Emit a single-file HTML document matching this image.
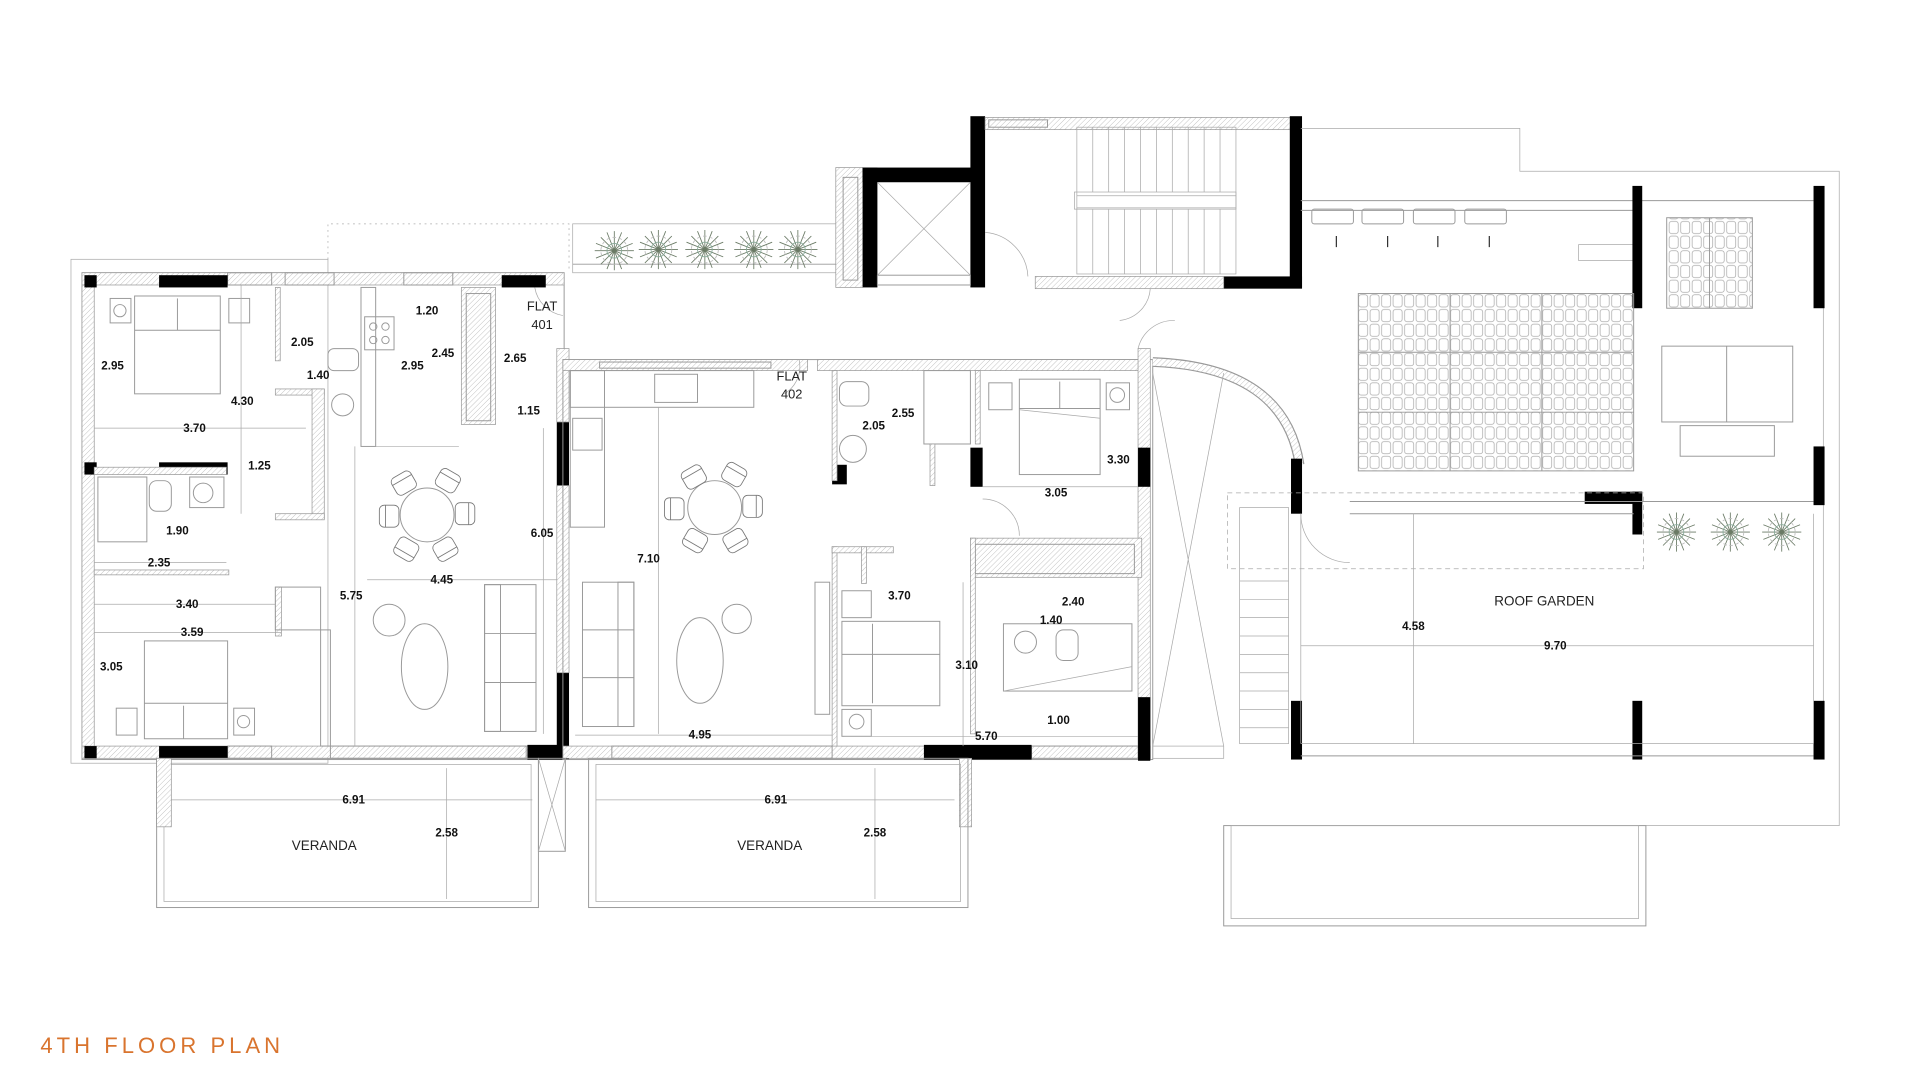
<!DOCTYPE html>
<html><head><meta charset="utf-8"><style>
html,body{margin:0;padding:0;background:#fff;}
svg{display:block}
.t{font-family:"Liberation Sans",sans-serif;font-size:9.5px;font-weight:bold;fill:#111;text-anchor:middle}
.r{font-family:"Liberation Sans",sans-serif;font-size:11px;fill:#222;text-anchor:middle}
.l{fill:none;stroke:#999;stroke-width:0.8}
.d{fill:none;stroke:#aaa;stroke-width:0.6}
.k{fill:#000}
.h{fill:url(#hat);stroke:#999;stroke-width:0.6}
</style></head><body>
<svg width="1920" height="1080" viewBox="0 0 1569 883" preserveAspectRatio="none" xmlns="http://www.w3.org/2000/svg">
<defs>
<pattern id="hat" width="3" height="3" patternUnits="userSpaceOnUse" patternTransform="rotate(45)"><rect width="3" height="3" fill="#fff"/><line x1="0" y1="0" x2="0" y2="3" stroke="#bbb" stroke-width="0.7"/></pattern>
<pattern id="cell" width="9.4" height="12" patternUnits="userSpaceOnUse"><rect x="1" y="1" width="7.4" height="10" rx="2" fill="none" stroke="#aaa" stroke-width="0.6"/></pattern>
<g id="plant" fill="none" stroke="#6a7a65" stroke-width="0.7"><path d="M0-16L0 16M-16 0L16 0M-11-11L11 11M-11 11L11-11M-6-15L6 15M6-15L-6 15M-15-6L15 6M-15 6L15-6"/><circle r="6" stroke="#8a9"/><circle r="11" stroke="#bbb" stroke-dasharray="3 2"/></g>
<g id="chair" fill="#fff" stroke="#777" stroke-width="0.7"><rect x="-9" y="-8" width="18" height="16" rx="4"/><path d="M-9-3h18"/></g>
</defs>
<rect width="1569" height="883" fill="#fff"/>

<!-- ===== FLAT 401 ===== -->
<rect x="58" y="212" width="210" height="412" class="d"/>
<path d="M268 212V183H465V222" class="d" stroke-dasharray="1.5 3"/>
<rect x="67" y="223" width="394" height="398" class="l"/>
<rect x="67" y="223" width="394" height="10" class="h"/>
<rect x="67" y="610" width="394" height="10" class="h"/>
<rect x="67" y="233" width="10" height="377" class="h"/>
<rect x="186" y="223" width="36" height="10" fill="#fff" class="l"/>
<rect x="233" y="223" width="40" height="10" fill="#fff" class="l"/>
<rect x="330" y="223" width="40" height="10" fill="#fff" class="l"/>
<rect x="186" y="610" width="36" height="10" fill="#fff" class="l"/>
<rect x="270" y="610" width="160" height="10" fill="#fff" class="l"/>
<rect class="k" x="69" y="225" width="10" height="10"/>
<rect class="k" x="130" y="225" width="56" height="10"/>
<rect class="k" x="410" y="225" width="36" height="10"/>
<rect class="k" x="69" y="378" width="10" height="10"/>
<rect class="k" x="130" y="378" width="56" height="10"/>
<rect class="k" x="69" y="610" width="10" height="10"/>
<rect class="k" x="130" y="610" width="56" height="10"/>
<rect class="k" x="431" y="609" width="34" height="12"/>
<rect class="k" x="455" y="345" width="10" height="52"/>
<rect class="k" x="455" y="550" width="10" height="70"/>
<rect x="455" y="285" width="10" height="60" class="h"/>
<rect x="455" y="397" width="10" height="153" class="h"/>
<!-- interior walls 401 -->
<rect x="77" y="382" width="108" height="6" class="h"/>
<rect x="77" y="466" width="110" height="4" class="h"/>
<rect x="225" y="235" width="4" height="60" class="h"/>
<rect x="225" y="318" width="40" height="5" class="h"/>
<rect x="255" y="318" width="10" height="106" class="h"/>
<rect x="225" y="420" width="40" height="5" class="h"/>
<rect x="295" y="235" width="12" height="130" class="l"/>
<rect x="377" y="235" width="28" height="112" class="h"/>
<rect x="381" y="240" width="20" height="104" fill="#fff" class="l"/>
<rect x="225" y="480" width="5" height="40" class="h"/>
<rect x="225" y="480" width="37" height="35" class="l"/>
<rect x="262" y="515" width="8" height="95" class="l"/>
<line x1="290" y1="365" x2="290" y2="610" class="d"/>
<line x1="307" y1="365" x2="375" y2="365" class="d"/>
<!-- furniture 401 -->
<rect x="110" y="242" width="70" height="80" class="l"/><line x1="110" y1="270" x2="180" y2="270" class="l"/><line x1="145" y1="244" x2="145" y2="270" class="l"/>
<rect x="90" y="244" width="17" height="20" class="l"/><circle cx="98" cy="254" r="5" class="l"/>
<rect x="187" y="244" width="17" height="20" class="l"/>
<rect x="118" y="524" width="68" height="80" class="l"/><line x1="118" y1="575" x2="186" y2="575" class="l"/><line x1="150" y1="577" x2="150" y2="604" class="l"/>
<rect x="95" y="579" width="17" height="22" class="l"/>
<rect x="191" y="579" width="17" height="22" class="l"/><circle cx="199" cy="590" r="5" class="l"/>
<rect x="80" y="390" width="40" height="53" class="l"/>
<rect x="122" y="393" width="18" height="25" rx="6" class="l"/>
<rect x="155" y="390" width="28" height="25" class="l"/><circle cx="166" cy="403" r="8" class="l"/>
<rect x="298" y="259" width="24" height="27" class="l"/><circle cx="305" cy="267" r="3" class="l"/><circle cx="315" cy="267" r="3" class="l"/><circle cx="305" cy="278" r="3" class="l"/><circle cx="315" cy="278" r="3" class="l"/>
<rect x="268" y="285" width="25" height="18" rx="5" class="l"/>
<circle cx="280" cy="331" r="9" class="l"/>
<circle cx="349" cy="421" r="22" class="l"/>
<use href="#chair" transform="translate(330,395) rotate(-30)"/><use href="#chair" transform="translate(366,393) rotate(30)"/>
<use href="#chair" transform="translate(380,420) rotate(90)"/><use href="#chair" transform="translate(318,422) rotate(-90)"/>
<use href="#chair" transform="translate(332,449) rotate(-150)"/><use href="#chair" transform="translate(364,449) rotate(150)"/>
<ellipse cx="347" cy="545" rx="19" ry="35" class="l"/><circle cx="318" cy="507" r="13" class="l"/>
<rect x="396" y="478" width="42" height="120" class="l"/><rect x="396" y="478" width="13" height="120" class="l"/>
<line x1="396" y1="518" x2="438" y2="518" class="l"/><line x1="396" y1="558" x2="438" y2="558" class="l"/>
<path d="M437 235 A28 28 0 0 0 460 258" class="d"/>

<!-- planter row -->
<rect x="468" y="183" width="217" height="40" class="d"/>
<line x1="468" y1="216" x2="683" y2="216" class="l"/>
<use href="#plant" transform="translate(502,205)"/><use href="#plant" transform="translate(538,204)"/><use href="#plant" transform="translate(576,204)"/><use href="#plant" transform="translate(616,204)"/><use href="#plant" transform="translate(652,204)"/>

<!-- elevator & stair core -->
<rect x="683" y="137" width="22" height="98" class="h"/>
<rect x="689" y="145" width="12" height="84" fill="#fff" class="l"/>
<rect class="k" x="705" y="137" width="12" height="98"/>
<rect class="k" x="705" y="137" width="98" height="12"/>
<rect class="k" x="793" y="95" width="12" height="140"/>
<path d="M717 149L793 225M793 149L717 225" class="d"/>
<rect x="717" y="225" width="76" height="8" class="l"/>
<rect x="805" y="96" width="250" height="10" class="h"/>
<rect x="808" y="98" width="48" height="6" fill="#fff" class="l"/>
<rect class="k" x="1054" y="95" width="10" height="140"/>
<rect class="k" x="1000" y="226" width="64" height="10"/>
<rect x="846" y="226" width="154" height="10" class="h"/>
<g class="d">
<rect x="880" y="104" width="130" height="120"/>
<line x1="880" y1="160" x2="1010" y2="160"/><line x1="880" y1="170" x2="1010" y2="170"/>
<rect x="878" y="157" width="132" height="14"/>
<path d="M893 104V157M906 104V157M919 104V157M932 104V157M945 104V157M958 104V157M971 104V157M984 104V157M997 104V157"/>
<path d="M893 171V224M906 171V224M919 171V224M932 171V224M945 171V224M958 171V224M971 171V224M984 171V224M997 171V224"/>
<path d="M805 190 A38 38 0 0 1 840 226"/>
<path d="M940 236 A28 28 0 0 1 915 262 M930 285 A30 30 0 0 1 960 262"/>
</g>

<!-- ===== FLAT 402 ===== -->
<rect x="460" y="294" width="482" height="327" class="l"/>
<rect x="460" y="294" width="200" height="9" class="h"/>
<rect x="490" y="296" width="140" height="5" fill="#fff" class="l"/>
<rect x="668" y="294" width="270" height="9" class="h"/>
<rect x="930" y="285" width="10" height="336" class="h"/>
<rect x="460" y="610" width="480" height="10" class="h"/>
<rect x="500" y="610" width="180" height="10" fill="#fff" class="l"/>
<rect x="843" y="610" width="87" height="10" fill="#fff" class="l"/>
<rect class="k" x="930" y="366" width="10" height="32"/>
<rect class="k" x="930" y="570" width="10" height="52"/>
<rect class="k" x="755" y="609" width="88" height="12"/>
<rect class="k" x="793" y="366" width="10" height="32"/>
<rect class="k" x="680" y="380" width="12" height="16"/>
<path d="M653 294 A26 26 0 0 1 641 322" class="d"/>
<rect x="466" y="303" width="150" height="30" class="l"/>
<rect x="466" y="303" width="28" height="128" class="l"/>
<rect x="535" y="306" width="35" height="23" class="l"/>
<rect x="468" y="342" width="24" height="26" class="l"/>
<rect x="680" y="303" width="4" height="90" class="h"/>
<rect x="686" y="312" width="24" height="20" rx="6" class="l"/>
<circle cx="697" cy="367" r="11" class="l"/>
<rect x="755" y="303" width="38" height="60" class="l"/>
<rect x="760" y="363" width="4" height="34" class="h"/>
<rect x="797" y="303" width="4" height="60" class="h"/>
<rect x="833" y="310" width="66" height="78" class="l"/><line x1="833" y1="334" x2="899" y2="334" class="l"/><line x1="866" y1="312" x2="866" y2="334" class="l"/>
<rect x="808" y="313" width="19" height="22" class="l"/>
<rect x="904" y="313" width="19" height="22" class="l"/><circle cx="913" cy="323" r="6" class="l"/>
<path d="M803 398H930" class="d"/>
<path d="M803 408 A30 30 0 0 1 833 438" class="d"/>
<rect x="680" y="447" width="4" height="163" class="h"/>
<rect x="680" y="447" width="50" height="5" class="h"/>
<rect x="704" y="447" width="4" height="30" class="h"/>
<rect x="666" y="476" width="12" height="108" class="l"/>
<rect x="688" y="508" width="80" height="69" class="l"/><line x1="688" y1="535" x2="768" y2="535" class="l"/><line x1="713" y1="510" x2="713" y2="575" class="l"/>
<rect x="688" y="483" width="24" height="22" class="l"/>
<rect x="688" y="580" width="24" height="22" class="l"/><circle cx="700" cy="590" r="6" class="l"/>
<rect x="793" y="440" width="140" height="32" class="h"/>
<rect x="797" y="445" width="130" height="24" fill="#fff" class="l"/>
<rect x="793" y="440" width="4" height="160" class="h"/>
<rect x="820" y="510" width="105" height="55" class="l"/>
<circle cx="838" cy="525" r="9" class="l"/><rect x="863" y="515" width="18" height="25" rx="6" class="l"/>
<path d="M820 565L925 545" class="d"/>
<line x1="833" y1="335" x2="899" y2="342" class="d"/>
<circle cx="584" cy="415" r="22" class="l"/>
<use href="#chair" transform="translate(567,390) rotate(-30)"/><use href="#chair" transform="translate(600,388) rotate(30)"/>
<use href="#chair" transform="translate(615,414) rotate(90)"/><use href="#chair" transform="translate(551,416) rotate(-90)"/>
<use href="#chair" transform="translate(568,442) rotate(-150)"/><use href="#chair" transform="translate(601,442) rotate(150)"/>
<ellipse cx="572" cy="540" rx="19" ry="35" class="l"/><circle cx="602" cy="506" r="12" class="l"/>
<rect x="476" y="476" width="42" height="118" class="l"/><rect x="505" y="476" width="13" height="118" class="l"/>
<line x1="476" y1="515" x2="518" y2="515" class="l"/><line x1="476" y1="554" x2="518" y2="554" class="l"/>

<!-- dimension lines -->
<g class="d">
<line x1="77" y1="350" x2="250" y2="350"/><line x1="197" y1="233" x2="197" y2="420"/>
<line x1="77" y1="460" x2="185" y2="460"/><line x1="300" y1="474" x2="455" y2="474"/>
<line x1="77" y1="494" x2="225" y2="494"/><line x1="77" y1="517" x2="230" y2="517"/>
<line x1="470" y1="601" x2="680" y2="601"/><line x1="690" y1="602" x2="930" y2="602"/>
<line x1="538" y1="333" x2="538" y2="600"/><line x1="787" y1="476" x2="787" y2="610"/>
<line x1="444" y1="350" x2="444" y2="600"/>
<line x1="140" y1="654" x2="435" y2="654"/><line x1="487" y1="654" x2="780" y2="654"/>
<line x1="365" y1="628" x2="365" y2="735"/><line x1="715" y1="628" x2="715" y2="735"/>
</g>

<!-- verandas -->
<rect x="128" y="620" width="312" height="122" class="l"/>
<rect x="134" y="625" width="300" height="112" class="d"/>
<rect x="128" y="620" width="12" height="56" class="h"/>
<rect x="784" y="620" width="10" height="56" class="h"/>
<rect x="481" y="620" width="310" height="122" class="l"/>
<rect x="487" y="625" width="298" height="112" class="d"/>
<rect x="440" y="620" width="22" height="76" class="l"/>
<path d="M440 620L462 696M462 620L440 696" class="d"/>

<!-- ===== ROOF GARDEN ===== -->
<path d="M1063 105H1242V140H1503V675H1345" class="d"/>
<rect x="1000" y="675" width="345" height="82" class="l"/>
<rect x="1006" y="675" width="333" height="76" class="d"/>
<path d="M942 296 Q1050 300 1062 380" fill="none" stroke="#999" stroke-width="8"/>
<path d="M942 296 Q1050 300 1062 380" fill="none" stroke="url(#hat)" stroke-width="6"/>
<path d="M942 305L1000 610M1000 305L942 610" class="d"/>
<rect x="942" y="610" width="58" height="10" class="d"/>
<line x1="1063" y1="164" x2="1340" y2="164" class="l"/><line x1="1063" y1="172" x2="1340" y2="172" class="l"/>
<line x1="1340" y1="164" x2="1482" y2="164" class="l"/>
<line x1="1490" y1="160" x2="1490" y2="620" class="d"/>
<g class="l"><rect x="1072" y="171" width="34" height="12" rx="2"/><rect x="1113" y="171" width="34" height="12" rx="2"/><rect x="1155" y="171" width="34" height="12" rx="2"/><rect x="1197" y="171" width="34" height="12" rx="2"/></g>
<g stroke="#000" stroke-width="0.8"><path d="M1092 193V202M1134 193V202M1175 193V202M1217 193V202"/></g>
<path d="M1290 200H1335V213H1290Z" class="d"/>
<rect class="k" x="1334" y="152" width="8" height="100"/>
<rect class="k" x="1482" y="152" width="9" height="100"/>
<rect class="k" x="1055" y="375" width="9" height="45"/>
<rect class="k" x="1482" y="365" width="9" height="48"/>
<rect class="k" x="1295" y="402" width="47" height="10"/>
<rect class="k" x="1334" y="402" width="8" height="35"/>
<rect class="k" x="1055" y="573" width="9" height="48"/>
<rect class="k" x="1334" y="573" width="8" height="48"/>
<rect class="k" x="1482" y="573" width="9" height="48"/>
<rect x="1110" y="240" width="225" height="145" fill="url(#cell)" stroke="#999" stroke-width="0.8"/>
<path d="M1185 240V385M1260 240V385M1110 288H1335M1110 337H1335" class="l"/>
<rect x="1362" y="178" width="70" height="74" fill="url(#cell)" stroke="#999" stroke-width="0.8"/>
<line x1="1397" y1="178" x2="1397" y2="252" class="l"/>
<rect x="1358" y="283" width="107" height="62" class="l"/><line x1="1411" y1="283" x2="1411" y2="345" class="l"/>
<rect x="1373" y="348" width="77" height="25" class="l"/>
<rect x="1003" y="403" width="340" height="62" class="d" stroke-dasharray="4 3"/>
<line x1="1103" y1="410" x2="1482" y2="410" class="l"/>
<line x1="1103" y1="420" x2="1335" y2="420" class="l"/>
<line x1="1063" y1="618" x2="1482" y2="618" class="l"/>
<line x1="1063" y1="608" x2="1482" y2="608" class="d"/>
<rect x="1013" y="415" width="40" height="193" class="d"/>
<path d="M1013 475H1053M1013 490H1053M1013 505H1053M1013 520H1053M1013 535H1053M1013 550H1053M1013 565H1053M1013 580H1053M1013 595H1053" class="d"/>
<line x1="1063" y1="420" x2="1063" y2="608" class="d"/>
<line x1="1482" y1="420" x2="1482" y2="608" class="d"/>
<line x1="1155" y1="420" x2="1155" y2="608" class="d"/>
<line x1="1063" y1="528" x2="1482" y2="528" class="d"/>
<path d="M1063 420 A40 40 0 0 0 1103 460" class="d"/>
<use href="#plant" transform="translate(1370,435)"/><use href="#plant" transform="translate(1414,435)"/><use href="#plant" transform="translate(1456,435)"/>

<!-- labels -->
<text class="r" x="443" y="254" style="font-size:10.5px">FLAT</text><text class="r" x="443" y="269" style="font-size:10.5px">401</text>
<text class="r" x="647" y="311" style="font-size:10.5px">FLAT</text><text class="r" x="647" y="326" style="font-size:10.5px">402</text>
<g class="t">
<text x="92" y="302">2.95</text><text x="198" y="331">4.30</text><text x="247" y="283">2.05</text><text x="260" y="310">1.40</text>
<text x="349" y="257">1.20</text><text x="362" y="292">2.45</text><text x="337" y="302">2.95</text><text x="421" y="296">2.65</text>
<text x="432" y="339">1.15</text><text x="159" y="353">3.70</text><text x="212" y="384">1.25</text><text x="145" y="437">1.90</text>
<text x="130" y="463">2.35</text><text x="443" y="439">6.05</text><text x="361" y="477">4.45</text><text x="287" y="490">5.75</text>
<text x="153" y="497">3.40</text><text x="157" y="520">3.59</text><text x="91" y="548">3.05</text>
<text x="530" y="460">7.10</text><text x="738" y="341">2.55</text><text x="714" y="351">2.05</text><text x="914" y="379">3.30</text>
<text x="863" y="406">3.05</text><text x="735" y="490">3.70</text><text x="877" y="495">2.40</text><text x="859" y="510">1.40</text>
<text x="790" y="547">3.10</text><text x="865" y="592">1.00</text><text x="572" y="604">4.95</text><text x="806" y="605">5.70</text>
<text x="289" y="657">6.91</text><text x="634" y="657">6.91</text><text x="365" y="684">2.58</text><text x="715" y="684">2.58</text>
<text x="1155" y="515">4.58</text><text x="1271" y="531">9.70</text>
</g>
<text class="r" x="265" y="695">VERANDA</text><text class="r" x="629" y="695">VERANDA</text>
<text class="r" x="1262" y="495">ROOF GARDEN</text>
<text x="33" y="861" style="font-family:'Liberation Sans',sans-serif;font-size:18px;letter-spacing:3.3px;fill:#d9742e">4TH FLOOR PLAN</text>
</svg>
</body></html>
